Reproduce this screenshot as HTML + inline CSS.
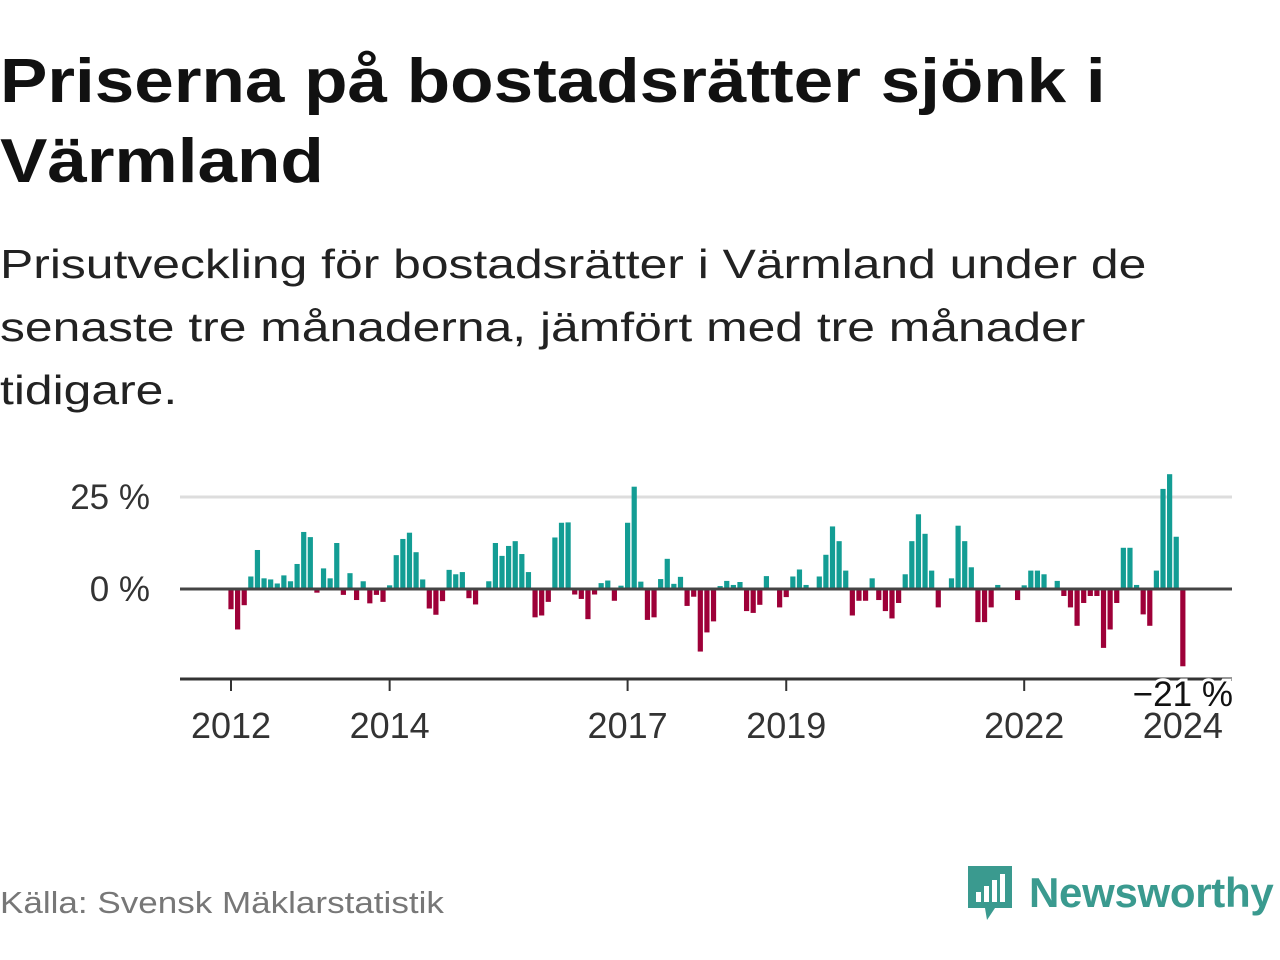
<!DOCTYPE html>
<html><head><meta charset="utf-8">
<style>
body{margin:0;width:1280px;height:960px;background:#fff;font-family:"Liberation Sans",sans-serif;overflow:hidden;position:relative}
.ln{position:absolute;left:0;white-space:nowrap;transform-origin:0 0}
.t{font-size:62px;font-weight:bold;color:#111;transform:scaleX(1.146)}
.s{font-size:41px;color:#222;transform:scaleX(1.215)}
.src{position:absolute;left:0;top:885px;font-size:31px;color:#777;transform:scaleX(1.13);transform-origin:0 0;white-space:nowrap}
.logo{position:absolute;left:965px;top:864px;display:flex;align-items:center}
.logo span{font-size:42px;color:#3a9a8f;margin-left:14px;font-weight:bold;letter-spacing:-0.3px}
</style></head><body>
<div>
<div class="ln t" style="top:46px">Priserna på bostadsrätter sjönk i</div>
<div class="ln t" style="top:126px">Värmland</div></div>
<div>
<div class="ln s" style="top:241px">Prisutveckling för bostadsrätter i Värmland under de</div>
<div class="ln s" style="top:304px">senaste tre månaderna, jämfört med tre månader</div>
<div class="ln s" style="top:367px">tidigare.</div></div>
<svg id="chart" width="1280" height="960" style="position:absolute;left:0;top:0"></svg>
<div class="src">Källa: Svensk Mäklarstatistik</div>
<div class="logo">
<svg width="50" height="58" viewBox="0 0 50 58"><path d="M3 2h44v42H30l-8 12-2-12H3z" fill="#3a9a8f"/><rect x="11" y="28" width="5" height="10" fill="#fff"/><rect x="19" y="22" width="5" height="16" fill="#fff"/><rect x="27" y="16" width="5" height="22" fill="#fff"/><rect x="35" y="10" width="5" height="28" fill="#fff"/></svg>
<span>Newsworthy</span></div>
<script>
const values=[-5.5,-11,-4.4,3.4,10.6,2.9,2.6,1.5,3.7,2.1,6.8,15.5,14.1,-1,5.6,2.9,12.5,-1.6,4.3,-3,2.1,-3.9,-1.6,-3.5,1,9.2,13.6,15.3,10,2.6,-5.3,-7,-3.3,5.2,4,4.6,-2.5,-4.2,0,2.1,12.5,9,11.7,13,9.5,4.6,-7.7,-7.2,-3.5,14,18,18.1,-1.5,-2.7,-8.2,-1.5,1.6,2.3,-3.2,0.9,18,27.8,2,-8.4,-7.7,2.7,8.2,1.4,3.3,-4.6,-2.1,-17,-11.8,-8.8,0.8,2.2,1.1,1.9,-6,-6.5,-4.3,3.5,0,-5,-2.2,3.4,5.3,1.1,0,3.4,9.3,17,13,5,-7.2,-3.2,-3.2,2.9,-3,-6,-8,-3.8,4,13,20.3,15,5,-5,0,2.9,17.2,13,5.9,-9,-9,-5,1.1,-0.3,-0.3,-3,1,5,5,4,0,2.2,-1.9,-5,-10,-3.8,-1.9,-1.9,-16,-11,-3.8,11.2,11.2,1.1,-6.9,-10,5,27.2,31.2,14.2,-21];
const startYear=2012;
const tickYears=[2012,2014,2017,2019,2022,2024];
const yTicks=[0,25];
const svg=document.getElementById('chart');
const NS='http://www.w3.org/2000/svg';
const x0=231,pxMonth=6.61,y0=589,pxPct=3.68;
const xs=i=>x0+i*pxMonth;
const ys=v=>y0-v*pxPct;
function mk(t,a){const e=document.createElementNS(NS,t);for(const k in a)e.setAttribute(k,a[k]);svg.appendChild(e);return e;}
yTicks.forEach(t=>{
 if(t!==0){const g=mk('line',{x1:180,x2:1232,y1:ys(t),y2:ys(t),stroke:'#ddd','stroke-width':3});
 
 }
 const l=mk('text',{x:150,y:ys(t)+12,'text-anchor':'end','font-size':35,fill:'#333','font-family':'Liberation Sans, sans-serif'});
 l.textContent=t+' %';
 
 
});
values.forEach((v,i)=>{
 const r=mk('rect',{x:xs(i)-2.6,width:5.2,y:Math.min(ys(v),y0),height:Math.abs(ys(v)-y0),fill:v>=0?'#139d94':'#9e0038'});
 
 
});
const z=mk('line',{x1:180,x2:1232,y1:y0,y2:y0,stroke:'#444','stroke-width':3});


const ax=mk('line',{x1:180,x2:1232,y1:679,y2:679,stroke:'#333','stroke-width':3});


tickYears.forEach(yr=>{
 const x=xs((yr-startYear)*12);
 const tk=mk('line',{x1:x,x2:x,y1:679,y2:691,stroke:'#333','stroke-width':2});
 
 
 const t=mk('text',{x:x,y:738,'text-anchor':'middle','font-size':36,fill:'#333','font-family':'Liberation Sans, sans-serif'});
 t.textContent=yr;
 
 
});
const li=values.length-1;
const lb=mk('text',{x:xs(li),y:706,'text-anchor':'middle','font-size':35,fill:'#111',stroke:'#fff','stroke-width':6,'paint-order':'stroke','font-family':'Liberation Sans, sans-serif'});
lb.textContent='\u221221 %';


</script>
</body></html>
